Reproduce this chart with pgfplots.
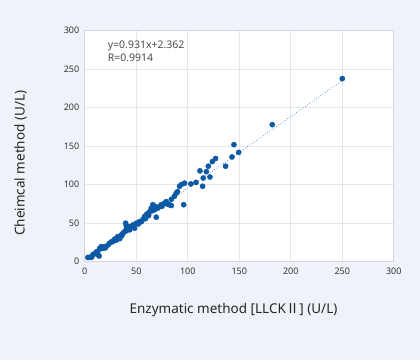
\documentclass[border=0pt]{standalone}
\usepackage{pgfplots}
\pgfplotsset{compat=1.18}
\usepackage{fontspec}
\setmainfont{Noto Sans}
\newfontfamily\cjk{Noto Sans CJK JP}
\definecolor{bgc}{HTML}{EFF3F9}
\definecolor{dotc}{HTML}{0C5AA6}
\definecolor{linec}{HTML}{3F7FC4}
\definecolor{gridc}{HTML}{E4E6EA}
\definecolor{framec}{HTML}{D3D7DD}
\definecolor{tickc}{HTML}{333333}
\pgfplotstableread{
x y
3 5.5
4.5 5.7
6.5 5.7
8 8.7
8.2 9.6
10.5 11
11.5 13
13 8.7
13.9 7.4
12.3 13
14.5 17.4
14.7 16.5
16 19.6
17.7 17.4
19.4 19.6
20 18
22.6 21.7
24 24
26 26
27 26
29 28
29.2 29.6
30.6 28
32 32.6
32.5 31
34 30
35.5 34.8
36 34
37 37
38.7 39
39.7 50
40 40
40.3 46.5
40.5 43.5
42 43.5
43.5 41.3
43.8 45.6
45 45.6
46.8 47.8
47 47
48.4 43.5
50 50
52 49
53 52
55 52
56.5 55
58 58.7
59 56
59.7 61
61.3 63
62 60
63 65
64.5 69.6
65 66
66 74
67.7 67.4
68 72
69.4 57.8
71 69.6
72.6 71.7
74.2 74
75 72
77.4 76
79 78
80 75
82 74
84 73
84 81
87 85
88.7 89
90 91
92 98
93.5 100
96.8 102
96 74
103 101
108 103
111.8 118
114.4 98
115 108.7
118 117
119.9 124
121.5 110
123.8 130
127 134
136.7 124
142.9 136
144.8 152
149.4 142
182 178
250 237.8
}\datatable
\pgfplotstableread{
x y
3 5.155
250 235.112
}\trendtable
\begin{document}
\begin{tikzpicture}[x=1pt,y=1pt]
\fill[bgc] (0,0) rectangle (420,360);
\begin{axis}[
  at={(84.8pt,98.3pt)}, anchor=south west,
  scale only axis, width=309pt, height=231pt,
  xmin=0, xmax=300, ymin=0, ymax=300,
  xtick={0,50,...,300}, ytick={0,50,...,300},
  major tick length=0pt,
  axis background/.style={fill=white},
  axis line style={draw=framec, line width=0.8pt},
  grid=major, major grid style={draw=gridc, line width=0.7pt},
  /pgf/number format/assume math mode=true,
  tick label style={font=\fontsize{9}{10}\selectfont, text=tickc},
  xticklabel style={yshift=-3pt},
  yticklabel style={xshift=-2pt},
  clip=false,
]
\addplot[linec, dotted, line width=0.7pt] table[x=x,y=y] {\trendtable};
\addplot[only marks, mark=*, mark size=2.6pt, color=dotc, mark options={draw=dotc, fill=dotc}] table[x=x,y=y] {\datatable};
\node[anchor=base west, font=\fontsize{10.5}{12}\selectfont, text=black!70, inner sep=0pt] at (rel axis cs:0.074,0.925) {y=0.931x+2.362};
\node[anchor=base west, font=\fontsize{10.5}{12}\selectfont, text=black!70, inner sep=0pt] at (rel axis cs:0.074,0.866) {R=0.9914};
\end{axis}
\node[anchor=base, font=\fontsize{13.5}{15}\selectfont, text=black!85, inner sep=0pt] at (233.5,47) {Enzymatic method [LLCK{\cjk Ⅱ}] (U/L)};
\node[anchor=base, rotate=90, font=\fontsize{13.5}{15}\selectfont, text=black!85, inner sep=0pt] at (24.5,196.7) {Cheimcal method (U/L)};
\end{tikzpicture}
\end{document}
